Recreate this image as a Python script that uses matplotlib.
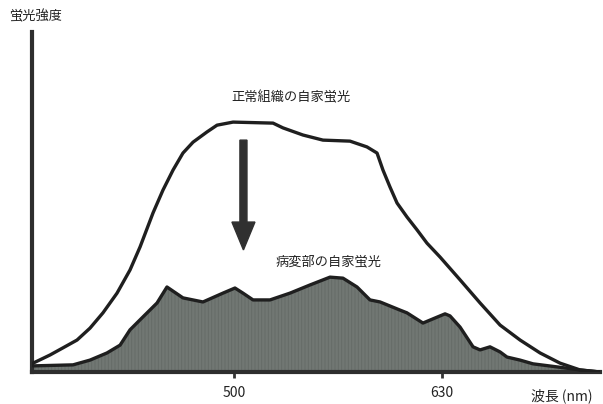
import matplotlib.pyplot as plt
from matplotlib.patches import FancyArrow

plt.rcParams['font.family'] = ['Noto Sans CJK JP', 'DejaVu Sans']

# 正常組織の自家蛍光 (波長 nm, 強度 a.u.)
normal_wl = [374.4, 385.0, 393.1, 401.9, 410.0, 418.1, 426.9, 435.0, 441.3, 449.4,
             455.6, 461.9, 468.1, 474.4, 483.1, 489.4, 499.4, 524.4, 530.6, 543.1,
             555.6, 572.5, 583.1, 589.4, 593.1, 597.5, 601.9, 608.1, 614.4, 620.6,
             628.8, 641.3, 653.8, 666.3, 678.8, 691.3, 703.8, 716.3, 728.8]
normal_int = [2.6, 5.0, 7.1, 9.4, 12.9, 17.4, 23.2, 30.0, 36.8, 46.8,
              53.5, 59.4, 64.4, 67.6, 70.6, 72.6, 73.5, 73.2, 71.8, 69.7,
              68.2, 67.9, 66.2, 64.4, 59.4, 54.4, 49.7, 45.6, 41.8, 37.9,
              33.8, 27.1, 20.3, 13.8, 9.4, 5.6, 2.6, 0.6, 0.0]

# 病変部の自家蛍光
lesion_wl = [374.4, 399.4, 410.0, 420.6, 428.8, 435.0, 443.1, 451.9, 458.1, 468.1,
             480.6, 493.1, 500.6, 505.6, 511.9, 522.5, 535.0, 547.5, 560.0, 568.1,
             576.9, 585.0, 591.3, 603.8, 608.1, 618.1, 628.8, 631.9, 635.0, 641.3,
             649.4, 653.8, 660.0, 666.3, 670.6, 678.8, 686.9, 701.9, 716.3, 728.8]
lesion_int = [1.8, 2.1, 3.5, 5.6, 7.9, 12.4, 16.2, 20.3, 25.0, 21.8,
              20.6, 23.2, 24.7, 23.2, 21.2, 21.2, 23.2, 25.6, 27.9, 27.6,
              25.0, 21.2, 20.6, 18.2, 17.4, 14.4, 16.5, 17.1, 16.5, 13.2,
              7.4, 6.5, 7.4, 5.9, 4.4, 3.5, 2.4, 1.5, 0.6, 0.0]

xticks = [500, 630]

W, H = 603, 404
fig = plt.figure(figsize=(W / 100, H / 100), dpi=100)
ax = fig.add_axes([32 / W, (H - 372) / H, (600 - 32) / W, (372 - 32) / H])
ax.set_xlim(373.75, 728.75)
ax.set_ylim(0, 100)

line_col = '#1f1f1f'
plt.rcParams['hatch.linewidth'] = 0.6
ax.fill_between(lesion_wl, lesion_int, 0, facecolor='#717773', edgecolor='#646a66',
                hatch='|||||', linewidth=0, zorder=2)
ax.plot(lesion_wl, lesion_int, color=line_col, lw=2.4, zorder=3,
        solid_joinstyle='round', solid_capstyle='round')
ax.plot(normal_wl, normal_int, color=line_col, lw=2.4, zorder=3,
        solid_joinstyle='round', solid_capstyle='round')

# 減少を示す矢印
ax.add_patch(FancyArrow(505.9, 68.2, 0, -32.3, width=4.4, head_width=14.4,
                        head_length=8.2, length_includes_head=True,
                        color='#303030', zorder=4))

ax.text(535.6, 80.6, '正常組織の自家蛍光', ha='center', va='center',
        fontsize=9.5, color='#222222')
ax.text(558.8, 32.4, '病変部の自家蛍光', ha='center', va='center',
        fontsize=9.5, color='#222222')

for s in ['top', 'right']:
    ax.spines[s].set_visible(False)
for s in ['left', 'bottom']:
    ax.spines[s].set_linewidth(3)
    ax.spines[s].set_color('#2e2e2e')
ax.set_yticks([])
ax.set_xticks(xticks)
ax.set_xticklabels([str(t) for t in xticks], fontsize=10, color='#222222')
ax.tick_params(axis='x', direction='out', length=4, width=2, color='#333333', pad=6)

fig.text(36 / W, 1 - 17 / H, '蛍光強度', ha='center', va='center', fontsize=9.5, color='#222222')
fig.text(562 / W, 1 - 396 / H, '波長 (nm)', ha='center', va='center', fontsize=10, color='#222222')

fig.savefig('out.png', dpi=100)
